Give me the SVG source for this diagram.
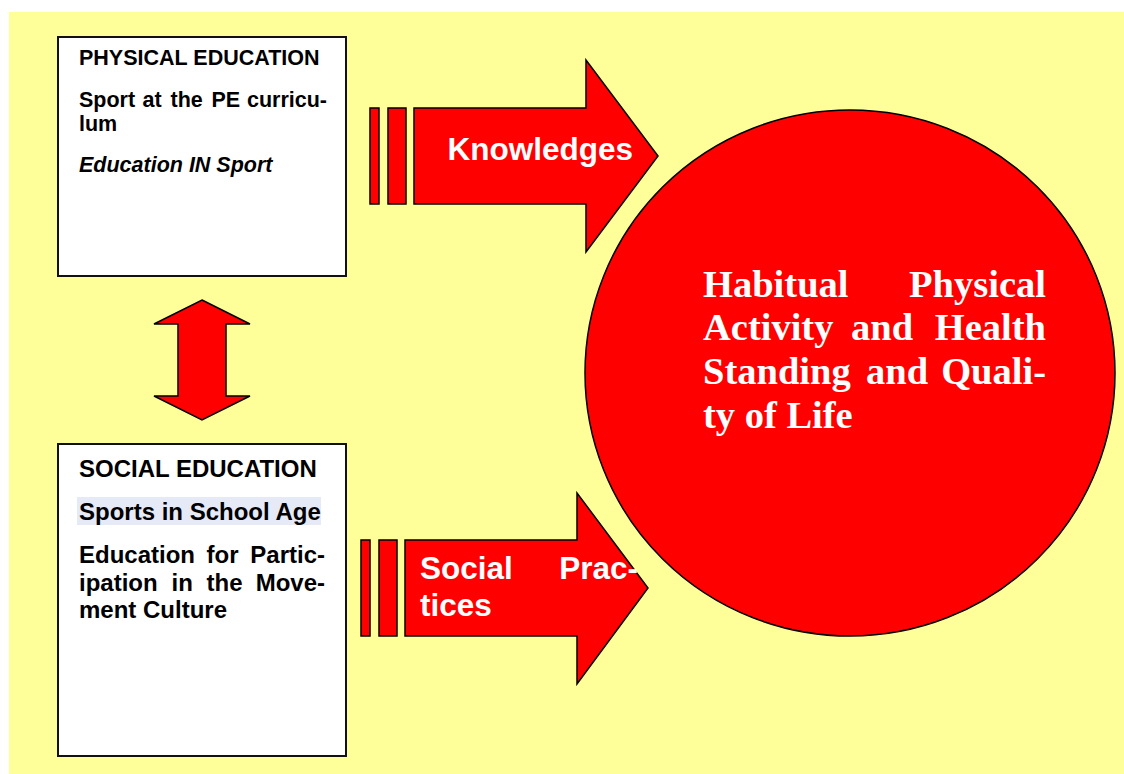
<svg xmlns="http://www.w3.org/2000/svg" width="1124" height="774" viewBox="0 0 1124 774">
<style>
.box{fill:#ffffff;stroke:#111111;stroke-width:2}
.red{fill:#ff0000;stroke:#000000;stroke-width:1.5;stroke-linejoin:miter}
.t{font-family:"Liberation Sans",Arial,sans-serif;font-weight:bold;fill:#000000}
.t21{font-size:21.5px}
.t24{font-size:24px}
.w{font-family:"Liberation Sans",Arial,sans-serif;font-weight:bold;fill:#ffffff;font-size:31.5px}
.s{font-family:"Liberation Serif","Times New Roman",serif;font-weight:bold;fill:#ffffff;font-size:38.5px}
</style>
<rect x="0" y="0" width="1124" height="774" fill="#ffffff"/>
<rect x="9" y="12" width="1115" height="762" fill="#ffff99"/>

<g id="connectors">
  <g id="arrow-knowledges">
    <rect class="red" x="370" y="108" width="9" height="96"/>
    <rect class="red" x="388" y="108" width="18" height="96"/>
    <path class="red" d="M414,108 L586,108 L586,60 L658,156 L586,252 L586,204 L414,204 Z"/>
  </g>
  <g id="arrow-social">
    <rect class="red" x="361" y="540" width="9" height="96"/>
    <rect class="red" x="379" y="540" width="18" height="96"/>
    <path class="red" d="M405,540 L577,540 L577,493 L648,588 L577,684 L577,636 L405,636 Z"/>
  </g>
  <g id="arrow-double">
    <path class="red" d="M202,300 L250,324 L226,324 L226,396 L250,396 L202,420 L154,396 L178,396 L178,324 L154,324 Z"/>
  </g>
</g>

<g id="node-physical">
  <rect class="box" x="58" y="37" width="288" height="239"/>
  <text class="t t21" x="79" y="65">PHYSICAL EDUCATION</text>
  <text class="t t21" y="107"><tspan x="79">Sport</tspan><tspan x="142.5">at</tspan><tspan x="170.5">the</tspan><tspan x="211.5">PE</tspan><tspan x="327" text-anchor="end">curricu-</tspan></text>
  <text class="t t21" x="79" y="131">lum</text>
  <text class="t t21" x="79" y="171.5" font-style="italic">Education IN Sport</text>
</g>

<g id="node-social">
  <rect class="box" x="58" y="444" width="288" height="312"/>
  <text class="t t24" x="79" y="477">SOCIAL EDUCATION</text>
  <rect x="77" y="497" width="244" height="28" fill="#e6eaf7"/>
  <text class="t t24" x="79" y="520">Sports in School Age</text>
  <text class="t t24" y="563"><tspan x="79">Education</tspan><tspan x="206.5">for</tspan><tspan x="325" text-anchor="end">Partic-</tspan></text>
  <text class="t t24" y="590.5"><tspan x="79">ipation</tspan><tspan x="171.5">in</tspan><tspan x="206.5">the</tspan><tspan x="325" text-anchor="end">Move-</tspan></text>
  <text class="t t24" x="79" y="618">ment Culture</text>
</g>

<g id="node-outcome">
  <ellipse cx="850" cy="373" rx="265" ry="263" fill="#ff0000" stroke="#000000" stroke-width="1.5"/>
  <text class="s" y="297"><tspan x="703">Habitual</tspan><tspan x="1046" text-anchor="end">Physical</tspan></text>
  <text class="s" y="340"><tspan x="703">Activity</tspan><tspan x="851">and</tspan><tspan x="1046" text-anchor="end">Health</tspan></text>
  <text class="s" y="384"><tspan x="703">Standing</tspan><tspan x="866">and</tspan><tspan x="1046" text-anchor="end">Quali-</tspan></text>
  <text class="s" x="703" y="428">ty of Life</text>
</g>

<g id="labels">
  <text class="w" x="447.5" y="160">Knowledges</text>
  <text class="w" y="579"><tspan x="420">Social</tspan><tspan x="638" text-anchor="end">Prac-</tspan></text>
  <text class="w" x="420" y="616">tices</text>
</g>
</svg>
